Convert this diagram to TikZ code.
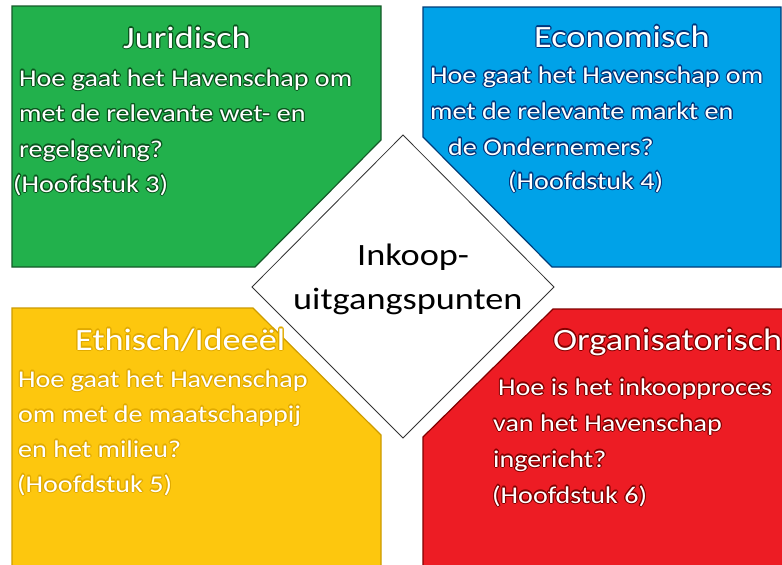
\documentclass[tikz,border=0pt]{standalone}
\usepackage{fontspec}
\setmainfont[FakeStretch=1.17]{Carlito}
\usepackage[copies]{contour}
\contourlength{1.1pt}
\contournumber{12}
\definecolor{gfill}{RGB}{34,177,76}
\definecolor{gline}{RGB}{20,90,40}
\definecolor{gdark}{RGB}{10,85,30}
\definecolor{bfill}{RGB}{0,162,232}
\definecolor{bline}{RGB}{0,60,120}
\definecolor{bdark}{RGB}{0,55,125}
\definecolor{yfill}{RGB}{253,199,14}
\definecolor{yline}{RGB}{205,155,0}
\definecolor{ydark}{RGB}{225,170,0}
\definecolor{rfill}{RGB}{237,28,36}
\definecolor{rline}{RGB}{130,0,0}
\definecolor{rdark}{RGB}{130,0,0}
\tikzset{
  panel/.style={line width=1.2pt, line join=miter},
  lbl/.style={inner sep=0pt, anchor=base west, text=white},
  title/.style={lbl, font=\fontsize{31}{37}\selectfont},
  body/.style={lbl, font=\fontsize{24}{29}\selectfont},
  centre/.style={inner sep=0pt, anchor=base west, text=black, font=\fontsize{31}{37}\selectfont},
  diamondline/.style={draw=black!80, line width=0.8pt, fill=white}
}
\begin{document}
\begin{tikzpicture}[x=1pt,y=-1pt]
\useasboundingbox (0,0) rectangle (782,565);
\fill[white] (0,0) rectangle (782,565);
% panels
\draw[panel, fill=gfill, draw=gline] (12,6) -- (381,6) -- (381,140) -- (255,267) -- (12,267) -- cycle;
\draw[panel, fill=bfill, draw=bline] (423,7) -- (781,7) -- (781,267) -- (552,267) -- (423,137) -- cycle;
\draw[panel, fill=yfill, draw=yline] (12,308) -- (253,308) -- (381,435) -- (381,567) -- (12,567) -- cycle;
\draw[panel, fill=rfill, draw=rline] (553,309) -- (784,309) -- (784,567) -- (423,567) -- (423,437) -- cycle;
% centre diamond
\draw[diamondline] (403,135) -- (554,287) -- (403,438) -- (252,287) -- cycle;
\node[centre] (c1) at (357,265) {Inkoop-};
\node[centre] (c2) at (293,309) {uitgangspunten};
% green
\node[title] (gt) at (123,48) {\contour{gdark}{Juridisch}};
\node[body] (g1) at (19,86) {\contour{gdark}{Hoe gaat het Havenschap om}};
\node[body] (g2) at (19,121.5) {\contour{gdark}{met de relevante wet- en}};
\node[body] (g3) at (19,157) {\contour{gdark}{regelgeving?}};
\node[body] (g4) at (13,192) {\contour{gdark}{(Hoofdstuk 3)}};
% blue
\node[title] (bt) at (534,47) {\contour{bdark}{Economisch}};
\node[body] (b1) at (430,83) {\contour{bdark}{Hoe gaat het Havenschap om}};
\node[body] (b2) at (430,119) {\contour{bdark}{met de relevante markt en}};
\node[body] (b3) at (448,155) {\contour{bdark}{de Ondernemers?}};
\node[body] (b4) at (508,189) {\contour{bdark}{(Hoofdstuk 4)}};
% yellow
\node[title] (yt) at (75,350) {\contour{ydark}{Ethisch/Ideeël}};
\node[body] (y1) at (18,387) {\contour{ydark}{Hoe gaat het Havenschap}};
\node[body] (y2) at (18,422) {\contour{ydark}{om met de maatschappij}};
\node[body] (y3) at (18,457) {\contour{ydark}{en het milieu?}};
\node[body] (y4) at (17,492) {\contour{ydark}{(Hoofdstuk 5)}};
% red
\node[title] (rt) at (553,350) {\contour{rdark}{Organisatorisch}};
\node[body] (r1) at (498,395) {\contour{rdark}{Hoe is het inkoopproces}};
\node[body] (r2) at (493,431) {\contour{rdark}{van het Havenschap}};
\node[body] (r3) at (493,467) {\contour{rdark}{ingericht?}};
\node[body] (r4) at (492,503) {\contour{rdark}{(Hoofdstuk 6)}};
\end{tikzpicture}
\end{document}
